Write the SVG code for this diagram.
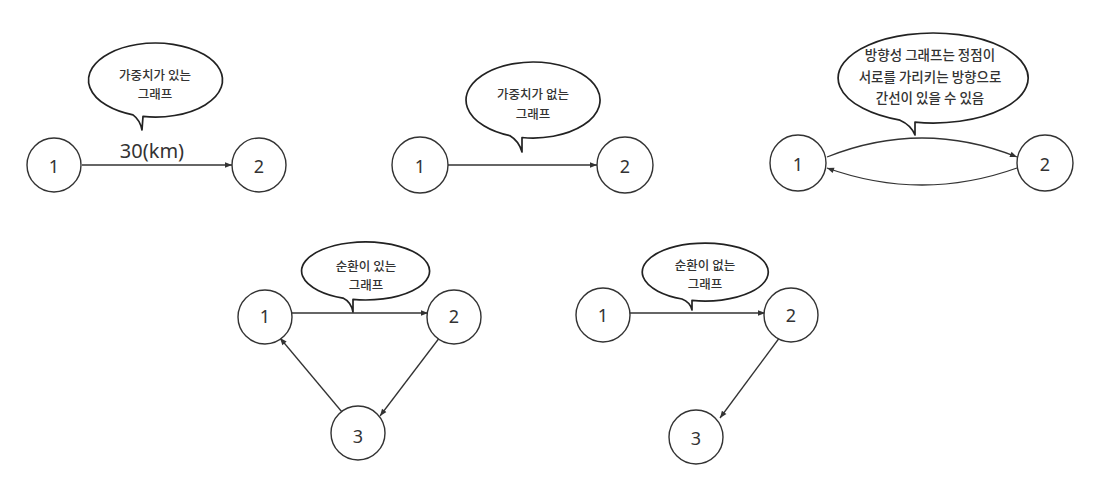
<svg xmlns="http://www.w3.org/2000/svg" width="1115" height="494" viewBox="0 0 1115 494">
<style>
.node circle{fill:#fff;stroke:#333;stroke-width:1.4}
.node text{font-family:"Noto Sans","Liberation Sans",sans-serif;font-size:18px;fill:#333;text-anchor:middle;dominant-baseline:central}
.bubble path{fill:#fff;stroke:#222;stroke-width:1.7;stroke-linejoin:round}
.bubble text{font-family:"Noto Sans CJK KR","Noto Sans",sans-serif;font-size:12.5px;font-weight:500;fill:#333;text-anchor:middle;dominant-baseline:central}
.edges path,.edges line{fill:none;stroke:#333;stroke-width:1.3;marker-end:url(#arr)}
.label{font-family:"Noto Sans","Liberation Sans",sans-serif;font-size:20px;fill:#333;text-anchor:middle}
</style>
<defs>
<marker id="arr" viewBox="0 0 10 10" refX="10" refY="5" markerWidth="8" markerHeight="7" markerUnits="userSpaceOnUse" orient="auto">
<path d="M0,1 L10,5 L0,9 Z" fill="#333"/>
</marker>
</defs>
<rect width="1115" height="494" fill="#fff"/>

<g class="edges">
<line x1="82" y1="165" x2="232" y2="165"/>
<line x1="448" y1="165" x2="597" y2="165"/>
<path d="M827,157 Q922,119 1017,157"/>
<path d="M1017,168 Q922,202 827,168"/>
<line x1="292" y1="313" x2="428" y2="313"/>
<line x1="440" y1="337" x2="380" y2="416"/>
<line x1="342" y1="412" x2="280" y2="338"/>
<line x1="628" y1="313" x2="765" y2="313"/>
<line x1="780" y1="337" x2="720" y2="418"/>
</g>
<text class="label" x="152" y="158">30(km)</text>

<g id="bubble-1" class="bubble">
<path d="M133,114.9 A67,37 0 1,1 143,116.4 L142,130 Q140,120 133,114.9 Z"/>
<text x="155" y="74">가중치가 있는</text>
<text x="155" y="93">그래프</text>
</g>
<g id="bubble-2" class="bubble">
<path d="M510,135.7 A67,38 0 1,1 522,137.5 L522,152 Q519,141 510,135.7 Z"/>
<text x="533" y="93">가중치가 없는</text>
<text x="533" y="113">그래프</text>
</g>
<g id="bubble-3" class="bubble">
<path d="M900,120.2 A95,45 0 1,1 915,122.2 L915,135 Q911,125 900,120.2 Z"/>
<text x="930" y="54" style="font-size:13.5px">방향성 그래프는 정점이</text>
<text x="930" y="76" style="font-size:13.5px">서로를 가리키는 방향으로</text>
<text x="930" y="97" style="font-size:13.5px">간선이 있을 수 있음</text>
</g>
<g id="bubble-4" class="bubble">
<path d="M343,298.1 A64,29 0 1,1 353,299.4 L353,312 Q351,302 343,298.1 Z"/>
<text x="366" y="265">순환이 있는</text>
<text x="366" y="284">그래프</text>
</g>
<g id="bubble-5" class="bubble">
<path d="M682,299 A63,29 0 1,1 692,300.4 L692,310 Q690,302 682,299 Z"/>
<text x="705" y="264">순환이 없는</text>
<text x="705" y="283">그래프</text>
</g>

<g id="p1-n1" class="node"><circle cx="54" cy="165" r="27"/><text x="54" y="166">1</text></g>
<g id="p1-n2" class="node"><circle cx="259" cy="165" r="27"/><text x="259" y="166">2</text></g>
<g id="p2-n1" class="node"><circle cx="420" cy="165" r="28"/><text x="420" y="166">1</text></g>
<g id="p2-n2" class="node"><circle cx="625" cy="165" r="28"/><text x="625" y="166">2</text></g>
<g id="p3-n1" class="node"><circle cx="798" cy="163" r="28"/><text x="798" y="164">1</text></g>
<g id="p3-n2" class="node"><circle cx="1045" cy="163" r="28"/><text x="1045" y="164">2</text></g>
<g id="p4-n1" class="node"><circle cx="265" cy="317" r="27"/><text x="265" y="316">1</text></g>
<g id="p4-n2" class="node"><circle cx="454" cy="317" r="27"/><text x="454" y="316">2</text></g>
<g id="p4-n3" class="node"><circle cx="358" cy="433" r="27"/><text x="358" y="436">3</text></g>
<g id="p5-n1" class="node"><circle cx="603" cy="315" r="27"/><text x="603" y="315">1</text></g>
<g id="p5-n2" class="node"><circle cx="791" cy="315" r="27"/><text x="791" y="315">2</text></g>
<g id="p5-n3" class="node"><circle cx="696" cy="437" r="27"/><text x="696" y="438">3</text></g>
</svg>
